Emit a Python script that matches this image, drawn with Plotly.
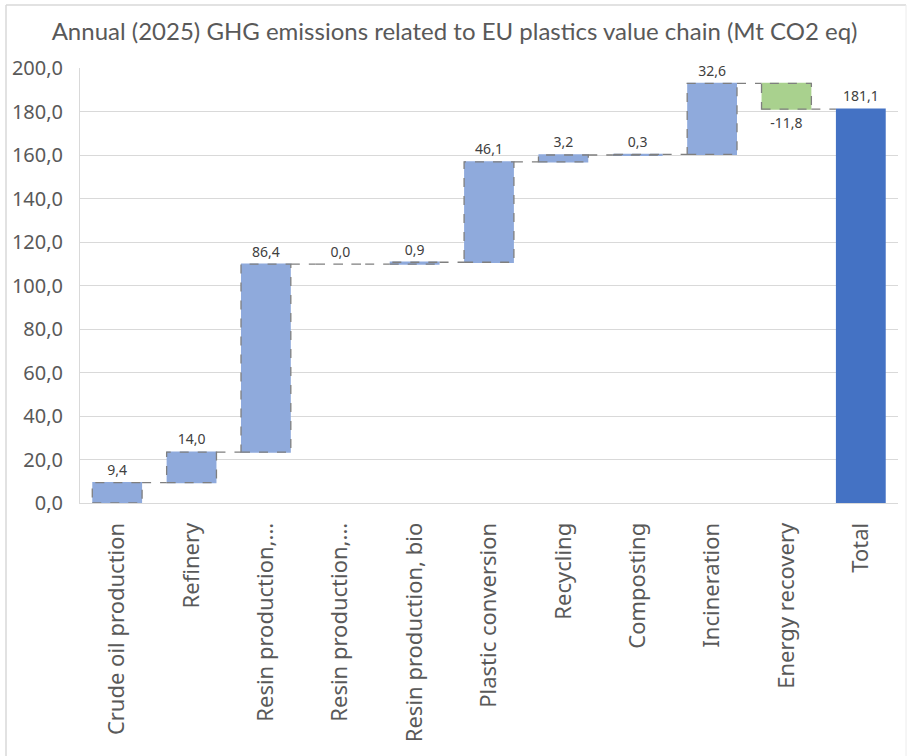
import plotly.graph_objects as go

# Emission contributions along the EU plastics value chain (Mt CO2 eq, 2025)
categories = [
    "Crude oil production", "Refinery", "Resin production,...", "Resin production,...",
    "Resin production, bio", "Plastic conversion", "Recycling", "Composting",
    "Incineration", "Energy recovery", "Total",
]
category_ids = [f"c{i}" for i in range(len(categories))]
values = [9.4, 14.0, 86.4, 0.0, 0.9, 46.1, 3.2, 0.3, 32.6, -11.8, 181.1]
measures = ["relative"] * 10 + ["total"]
y_ticks = [0, 20, 40, 60, 80, 100, 120, 140, 160, 180, 200]

W, H = 909, 756
M_L, M_R, M_T, M_B = 80, 11, 68, 253
BAR_GAP = 0.33
HALF = (1 - BAR_GAP) / 2
TICK_FONT = "Noto Sans"

def fmt(v):
    return f"{v:.1f}".replace(".", ",")

labels = [fmt(v) for v in values]

fig = go.Figure()
fig.add_trace(go.Waterfall(
    x=category_ids,
    y=[v if m == "relative" else None for v, m in zip(values, measures)],
    measure=measures,
    text=labels,
    textposition="outside",
    textfont=dict(family=TICK_FONT, size=14, color="#404040"),
    increasing=dict(marker=dict(color="#8faadc", line=dict(width=0))),
    decreasing=dict(marker=dict(color="#a9d18e", line=dict(width=0))),
    totals=dict(marker=dict(color="#4472c4", line=dict(width=0))),
    connector=dict(mode="between", line=dict(color="#7f7f7f", width=1.3, dash="dash")),
    cliponaxis=False,
    hoverinfo="x+y",
))

# dashed outlines around the floating (relative) bars
shapes = []
running = 0.0
for i, (v, m) in enumerate(zip(values, measures)):
    if m != "relative":
        continue
    lo, hi = sorted([running, running + v])
    shapes.append(dict(
        type="rect", xref="x", yref="y",
        x0=i - HALF, x1=i + HALF, y0=lo, y1=hi,
        line=dict(color="#7f7f7f", width=1.3, dash="dash"),
        fillcolor="rgba(0,0,0,0)", layer="above",
    ))
    running += v

# light frame around the whole chart
pw = W - M_L - M_R
ph = H - M_T - M_B
def px_x(p):
    return (p - M_L) / pw
def px_y(p):
    return (H - M_B - p) / ph
frame = dict(color="#d9d9d9", width=1.5)
shapes += [
    dict(type="line", xref="paper", yref="paper", x0=px_x(6), x1=px_x(906),
         y0=px_y(5), y1=px_y(5), line=frame),
    dict(type="line", xref="paper", yref="paper", x0=px_x(6), x1=px_x(6),
         y0=px_y(5), y1=px_y(H + 5), line=frame),
    dict(type="line", xref="paper", yref="paper", x0=px_x(906), x1=px_x(906),
         y0=px_y(5), y1=px_y(H + 5), line=dict(color="#ececec", width=1)),
]

fig.update_layout(
    width=W, height=H,
    margin=dict(l=M_L, r=M_R, t=M_T, b=M_B, pad=0),
    paper_bgcolor="white", plot_bgcolor="white",
    separators=",.",
    showlegend=False,
    waterfallgap=BAR_GAP,
    title=dict(
        text="Annual (2025) GHG emissions related to EU plastics value chain (Mt CO2 eq)",
        x=0.5, xanchor="center", y=1 - 32 / H, yanchor="middle", yref="container",
        font=dict(family="Lato", size=24, color="#595959"),
    ),
    xaxis=dict(
        type="category",
        tickvals=category_ids, ticktext=categories,
        tickangle=-90,
        tickfont=dict(family=TICK_FONT, size=22, color="#595959"),
        showline=True, linecolor="#d9d9d9", linewidth=1,
        showgrid=False, ticks="", ticklabelstandoff=10,
    ),
    yaxis=dict(
        range=[0, 200], tickvals=y_ticks, tickformat=".1f",
        tickfont=dict(family=TICK_FONT, size=20, color="#595959"),
        showgrid=True, gridcolor="#d9d9d9", gridwidth=1,
        showline=True, linecolor="#d9d9d9", linewidth=1,
        zeroline=False, ticks="", ticklabelstandoff=12,
    ),
    shapes=shapes,
)

fig.write_html("out.html")
